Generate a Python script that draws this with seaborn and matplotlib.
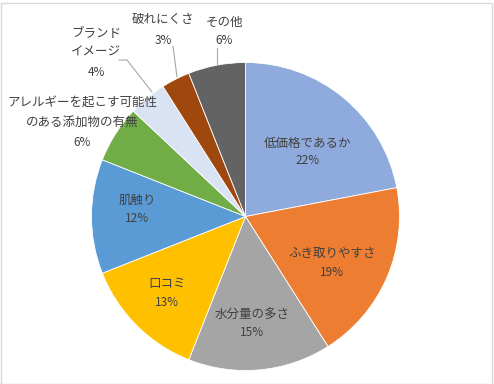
# Import libraries
import matplotlib
matplotlib.use("Agg")
import matplotlib.pyplot as plt
import seaborn as sns
from matplotlib.patches import Rectangle

# Data
categories = ["低価格であるか", "ふき取りやすさ", "水分量の多さ", "口コミ", "肌触り",
              "アレルギーを起こす可能性\nのある添加物の有無", "ブランド\nイメージ", "破れにくさ", "その他"]
shares = [22, 19, 15, 13, 12, 6, 4, 3, 6]
colors = ["#8FAADC", "#ED7D31", "#A5A5A5", "#FFC000", "#5B9BD5",
          "#70AD47", "#DAE3F3", "#9E480E", "#636363"]

# label anchor (pixel coords from top-left) for name / percent
label_pos = [(308, 143), (332, 253), (252, 315), (167, 283), (137, 200),
             (82, 113), (96, 43), (163, 20), (224, 22)]
pct_gap = [18, 19, 18, 19, 19, 29, 29, 20, 19]

sns.set_theme(style="white")
plt.rcParams['font.family'] = ['Noto Sans CJK JP', 'DejaVu Sans']

W, H = 494, 384
fig = plt.figure(figsize=(W / 100, H / 100), dpi=100)
ax = fig.add_axes([0, 0, 1, 1])

ax.pie(shares, colors=colors, startangle=90, counterclock=False,
       center=(245.5, H - 216.5), radius=154, frame=True,
       wedgeprops=dict(edgecolor="white", linewidth=0.6))

txt_color = "#404040"
for name, val, (x, y), g in zip(categories, shares, label_pos, pct_gap):
    ax.text(x, H - y, name, ha="center", va="center", fontsize=9,
            color=txt_color, linespacing=1.6)
    ax.text(x, H - (y + g), f"{val}%", ha="center", va="center", fontsize=8.5,
            color=txt_color)

# leader lines
lc = "#A6A6A6"
ax.plot([119, 127, 152], [H - 60, H - 60, H - 92], color=lc, lw=0.8)
ax.plot([173, 177], [H - 46, H - 77], color=lc, lw=0.8)
ax.plot([217, 217], [H - 48, H - 65], color=lc, lw=0.8)

ax.set_xlim(0, W)
ax.set_ylim(0, H)
ax.set_aspect("equal")
ax.axis("off")

fig.patches.append(Rectangle((0.5 / W, 0.5 / H), 1 - 3 / W, 1 - 3 / H,
                             transform=fig.transFigure, fill=False,
                             edgecolor="#D9D9D9", lw=1))

fig.savefig("out.png", dpi=100, facecolor="white")
